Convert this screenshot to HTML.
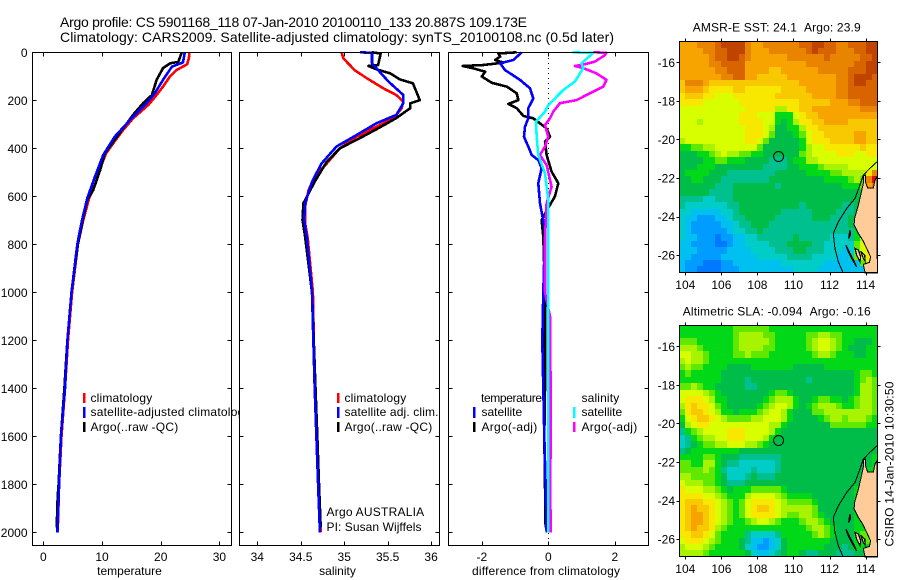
<!DOCTYPE html>
<html>
<head>
<meta charset="utf-8">
<title>Argo profile</title>
<style>
html,body{margin:0;padding:0;background:#fff;}
svg{display:block;}
text{font-family:"Liberation Sans",sans-serif;font-size:12px;fill:#000;}
.t14{font-size:14px;}
</style>
</head>
<body>
<svg id="fig" xmlns="http://www.w3.org/2000/svg" width="900" height="580" viewBox="0 0 900 580">
  <rect x="0" y="0" width="900" height="580" fill="#fff"/>
  <text class="t14" x="60" y="27" textLength="467">Argo profile: CS 5901168_118 07-Jan-2010 20100110_133 20.887S 109.173E</text>
  <text class="t14" x="60" y="42" textLength="554">Climatology: CARS2009. Satellite-adjusted climatology: synTS_20100108.nc (0.5d later)</text>

  <g id="panelT">
    <g id="seriesT"></g>
    <g>
      <rect x="83" y="393" width="2.5" height="10" fill="#f00"/>
      <text x="90.5" y="402" textLength="61.7">climatology</text>
      <rect x="83" y="407" width="2.5" height="11" fill="#00f"/>
      <text x="90.5" y="416" textLength="160">satellite-adjusted climatology</text>
      <rect x="83" y="422" width="2.5" height="10" fill="#000"/>
      <text x="90.5" y="431" textLength="87.7">Argo(..raw -QC)</text>
    </g>
  </g>

  <g id="panelS">
    <rect x="239" y="45" width="201" height="505" fill="#fff"/>
    <g id="seriesS"></g>
    <g>
      <rect x="337" y="393" width="2.5" height="10" fill="#f00"/>
      <text x="344.5" y="402" textLength="61.7">climatology</text>
      <rect x="337" y="407" width="2.5" height="11" fill="#00f"/>
      <text x="344.5" y="416" textLength="94">satellite adj. clim.</text>
      <rect x="337" y="422" width="2.5" height="10" fill="#000"/>
      <text x="344.5" y="431" textLength="87.7">Argo(..raw -QC)</text>
      <text x="326.5" y="516" textLength="97.7">Argo AUSTRALIA</text>
      <text x="326.5" y="531" textLength="95">PI: Susan Wijffels</text>
    </g>
  </g>

  <g id="panelD">
    <rect x="448" y="45" width="201" height="505" fill="#fff"/>
    <g id="seriesD"></g>
    <g>
      <text x="481" y="402" textLength="61">temperature</text>
      <rect x="473" y="407" width="2.5" height="11" fill="#00f"/>
      <text x="481.5" y="416" textLength="40.7">satellite</text>
      <rect x="473" y="422" width="2.5" height="10" fill="#000"/>
      <text x="481.5" y="431" textLength="55.7">Argo(-adj)</text>
      <text x="581.5" y="402" textLength="37.7">salinity</text>
      <rect x="573" y="407" width="2.5" height="11" fill="#0ff"/>
      <text x="581.5" y="416" textLength="40.7">satellite</text>
      <rect x="573" y="422" width="2.5" height="10" fill="#f0f"/>
      <text x="581.5" y="431" textLength="55.7">Argo(-adj)</text>
    </g>
  </g>

  <text x="129.5" y="575" text-anchor="middle">temperature</text>
  <text x="337.5" y="575" text-anchor="middle">salinity</text>
  <text x="472" y="575" textLength="148">difference from climatology</text>

  <g id="mapA"></g>
  <g id="mapB"></g>
  <text x="692.7" y="31.5" textLength="168">AMSR-E SST: 24.1&#160;&#160;Argo: 23.9</text>
  <text x="682.7" y="315.5" textLength="188">Altimetric SLA: -0.094&#160;&#160;Argo: -0.16</text>
  <text transform="translate(893.5,546.5) rotate(-90)" textLength="165">CSIRO 14-Jan-2010 10:30:50</text>
</svg>

<script>
// ---------- Profile data ----------
const depthTicks = [0,200,400,600,800,1000,1200,1400,1600,1800,2000];
const tempTicks = [0,10,20,30];
const salTicks = [34,34.5,35,35.5,36];
const salTickLabels = ['34','34.5','35','35.5','36'];
const diffTicks = [-2,0,2];

const tempClimDepth = [0,25,50,74,100,143,178,219,275,324,379,421,470,553,608,700,800,1000,1200,1400,1600,1800,2000];
const tempClimValues = [24.9,24.8,24.5,22.7,21.6,20.4,19.3,17.9,15.3,13.6,11.9,10.7,9.9,8.8,7.8,6.8,5.9,4.9,4.2,3.7,3.1,2.7,2.45];
const tempArgoDepth = [0,40,46,66,115,178,212,261,317,373,421,490,574,615,700,800,1000,1200,1400,1600,1800,1850,1980];
const tempArgoValues = [23.6,23,21.6,20.4,19.3,18.5,17,15.3,13.6,11.9,10.5,9.7,8.5,7.5,6.7,5.9,4.8,4.1,3.6,3.0,2.6,2.45,2.28];
const tempSatDepth = [0,42,60,115,171,212,268,351,428,518,608,700,800,1000,1200,1400,1600,1800,2000];
const tempSatValues = [24.1,23.8,21.9,20.4,19,17.6,15.3,12.2,10.2,8.8,7.5,6.6,5.8,4.8,4.1,3.7,3.0,2.7,2.4];

const salClimDepth = [0,25,74,108,150,178,206,233,271,303,352,400,463,518,574,643,711,774,1000,1400,1600,1800,2000];
const salClimValues = [34.97,34.99,35.12,35.26,35.45,35.60,35.68,35.66,35.58,35.41,35.14,34.95,34.80,34.66,34.59,34.55,34.55,34.58,34.64,34.66,34.68,34.70,34.73];
const salArgoDepth = [0,5,53,57,71,88,113,129,199,213,233,274,313,358,400,456,539,629,699,768,1000,1400,1600,1800,1980];
const salArgoValues = [35.32,35.42,35.39,35.28,35.37,35.53,35.64,35.79,35.87,35.76,35.76,35.60,35.41,35.18,34.95,34.80,34.66,34.53,34.52,34.55,34.63,34.67,34.69,34.71,34.73];
const salSatDepth = [0,2,46,74,122,178,212,261,296,345,393,463,539,629,699,770,1000,1400,1600,1800,2000];
const salSatValues = [35.18,35.32,35.32,35.39,35.51,35.68,35.68,35.60,35.37,35.14,34.91,34.74,34.63,34.55,34.54,34.57,34.63,34.66,34.68,34.70,34.72];

const diffTempArgoDepth = [0,5,18,32,43,53,57,67,81,101,127,143,171,199,215,233,265,275,317,352,372,428,497,546,601,636,699,768,1000,1400,1600,1800,1980];
const diffTempArgoValues = [-0.95,-1.5,-1.45,-1.6,-1.35,-1.95,-2.57,-2.25,-1.9,-2.0,-1.7,-1.25,-0.95,-0.9,-1.2,-0.95,-0.75,-0.45,-0.05,0.05,-0.1,-0.05,0.1,0.3,0.2,0.05,-0.2,-0.15,-0.1,-0.1,-0.12,-0.1,-0.08];
const diffTempSatDepth = [0,32,46,74,115,150,192,233,275,310,352,393,428,449,483,546,629,740,1000,1200,1400,1600,1800,2000];
const diffTempSatValues = [-0.8,-1.05,-1.45,-1.3,-0.85,-0.55,-0.45,-0.6,-0.6,-0.7,-0.73,-0.6,-0.5,-0.3,-0.2,-0.3,-0.25,-0.1,-0.15,-0.18,-0.15,-0.12,-0.08,-0.05];
const diffSalArgoDepth = [0,2,12,39,53,57,66,88,115,143,171,199,212,247,275,303,352,393,428,470,560,629,774,1000,1100,1400,1600,1800,2000];
const diffSalArgoValues = [1.35,1.75,1.7,1.4,1.0,0.8,1.05,1.45,1.75,1.65,1.25,0.85,0.35,0.15,0.05,-0.1,0,-0.1,-0.25,-0.05,0.1,-0.05,-0.1,-0.1,0.05,0.07,0.07,0.06,0.07];
const diffSalSatDepth = [0,3,46,66,122,157,220,247,289,352,428,504,615,774,1000,1400,2000];
const diffSalSatValues = [0.73,1.35,1.0,1.05,0.8,0.45,0,-0.1,-0.37,-0.35,-0.3,-0.1,0,0,0,0,0];

// ---------- Map data ----------
const lonTicks = [104,106,108,110,112,114];
const latTicks = [-16,-18,-20,-22,-24,-26];
const colorScale = ['#0078ff','#009cff','#00c0f0','#00ccc8','#00c090','#00bc48','#00d818','#60e800','#a8f400','#d8ff00','#f8e800','#f8c800','#f8a400','#e88400','#d86400','#c04400','#e01000'];

const sstLevels = [
[12,12,12,13,13,13,14,15,15,15,15,13,12,12,13,13,13,13,13,13,14,14,15,15,14,14,13,13,14,14,14,15,15],
[12,12,12,12,13,13,14,14,15,15,15,13,12,12,12,13,13,13,13,13,13,14,15,14,14,14,13,13,13,14,14,15,15],
[12,12,12,12,12,13,14,14,15,15,14,13,12,12,12,12,12,12,13,13,13,13,13,13,14,13,13,13,13,13,14,14,15],
[12,12,12,12,12,13,13,14,14,14,14,12,12,12,12,12,12,12,12,12,12,13,13,13,13,13,13,13,13,14,14,15,15],
[12,12,12,12,12,12,13,13,14,14,14,12,12,12,12,11,11,12,12,12,12,12,12,13,13,13,13,13,14,14,14,15,15],
[12,12,12,12,12,12,12,13,13,14,14,12,12,11,11,11,11,11,12,12,12,12,12,12,12,12,13,13,14,15,15,15,14],
[11,13,13,13,12,11,11,11,11,11,11,11,11,11,11,11,11,11,11,11,12,12,12,12,12,12,13,13,14,15,15,14,14],
[11,12,12,12,11,10,10,10,10,11,11,10,10,10,10,10,10,11,11,11,11,12,12,12,12,12,13,13,14,14,14,14,14],
[10,11,11,11,10,10,9,9,9,10,10,10,10,10,10,10,11,11,11,11,11,11,12,12,12,12,13,13,14,14,14,14,14],
[10,10,10,10,9,9,9,9,9,9,10,10,10,10,10,10,10,10,10,10,11,11,11,11,11,12,12,12,13,13,14,14,14],
[9,9,9,9,9,9,9,9,9,9,9,10,10,10,10,10,8,8,10,10,11,11,12,12,12,12,12,12,12,12,13,13,13],
[9,9,9,9,9,9,9,9,9,9,10,10,10,9,9,9,6,6,6,9,10,11,11,12,12,12,12,12,12,12,12,12,12],
[9,9,9,8,9,9,9,9,9,9,10,10,10,10,9,9,6,5,6,8,10,10,11,11,12,12,12,12,11,11,11,11,11],
[9,9,9,9,9,9,9,9,9,9,9,10,10,10,9,8,5,5,6,6,8,10,10,11,11,11,11,11,11,11,11,11,11],
[9,9,9,9,9,9,9,9,9,9,9,10,10,10,9,7,5,5,5,6,7,9,10,10,11,11,11,11,11,12,12,11,11],
[8,9,9,9,9,9,9,9,9,9,9,10,10,9,7,5,5,5,5,5,6,9,10,10,10,11,11,11,11,12,12,11,11],
[6,6,7,7,8,8,9,9,9,9,9,9,9,7,5,5,5,5,5,5,6,8,9,9,10,10,10,10,10,10,11,10,10],
[5,5,5,6,6,7,8,9,8,8,7,7,6,6,5,5,5,5,5,5,7,8,9,9,9,9,10,10,10,9,9,10,10],
[5,5,5,5,6,6,7,7,6,6,6,5,5,5,5,4,4,4,5,6,6,8,8,9,9,9,9,9,9,9,9,9,9],
[5,5,5,6,6,6,5,5,5,5,5,5,5,5,4,4,4,4,5,5,6,6,6,7,8,8,8,8,9,9,9,9,9],
[5,6,6,6,6,5,5,5,4,4,4,4,4,4,4,4,5,5,5,5,5,6,6,6,6,7,7,8,8,8,8,10,13],
[5,5,6,6,5,5,5,4,4,4,4,4,4,4,4,5,5,5,5,5,5,5,5,5,6,6,6,6,7,8,7,13,16],
[5,5,5,5,5,5,4,4,4,5,5,5,5,5,5,5,4,5,5,5,5,5,5,5,5,5,5,6,6,6,7,12,13],
[5,5,5,5,5,4,4,4,4,5,5,5,5,5,5,5,5,5,5,5,5,5,5,5,5,5,5,5,5,5,6,6,6],
[4,4,4,4,3,3,4,4,4,5,5,5,5,5,5,5,5,5,5,5,5,5,5,5,5,5,5,5,5,5,5,5,5],
[4,3,3,3,3,3,3,3,4,4,5,5,5,5,5,5,5,5,5,5,4,5,5,5,5,5,5,4,4,5,5,5,5],
[3,3,2,2,2,2,2,3,3,4,5,5,5,5,5,5,5,4,4,4,4,4,5,5,5,5,4,4,4,5,5,5,5],
[3,2,2,1,1,1,2,2,3,4,4,5,5,5,5,5,4,4,4,4,4,4,5,5,5,4,4,4,5,5,5,5,5],
[3,2,1,1,1,1,1,2,2,3,4,4,5,5,5,4,4,4,4,4,4,4,4,4,4,4,4,4,5,5,5,5,5],
[3,2,1,1,1,1,1,1,2,3,3,4,4,5,4,4,4,4,4,4,4,4,4,4,4,4,4,4,4,6,7,7,7],
[3,2,2,1,1,1,0,1,1,2,2,3,3,4,4,4,4,4,4,5,4,4,4,4,4,3,3,3,4,6,8,9,9],
[2,2,1,1,1,1,0,0,1,2,2,3,3,3,3,4,4,4,5,5,5,5,4,4,3,3,3,3,3,7,9,10,10],
[2,2,2,1,1,1,1,1,2,2,2,2,3,3,3,3,4,4,4,5,5,4,4,4,3,3,3,2,3,7,9,10,11],
[2,2,1,1,1,1,1,2,2,2,2,2,2,3,3,3,3,3,4,4,4,4,3,3,3,3,2,2,3,7,9,10,11],
[2,1,1,1,0,0,0,1,1,2,2,2,2,2,2,2,2,3,3,3,3,3,3,3,2,2,2,2,2,2,7,9,10],
[2,1,1,0,0,0,0,1,1,1,2,2,2,2,2,2,2,2,2,3,3,3,3,2,2,2,2,2,2,2,2,7,9]
];

const slaLevels = [
[6,6,6,6,6,6,6,6,6,7,7,7,7,7,7,6,6,6,6,6,6,6,6,6,6,6,6,6,6,6,6,6,6],
[6,6,6,6,6,6,6,6,6,7,8,8,8,8,7,7,6,6,6,6,6,7,7,8,8,7,7,6,6,6,6,6,6],
[7,7,7,6,6,6,6,6,6,7,8,8,8,8,8,7,6,6,6,6,6,7,8,9,9,8,7,6,6,5,5,5,6],
[8,8,8,7,6,6,6,6,6,7,8,8,8,8,7,7,6,6,6,6,6,7,8,9,9,8,7,6,5,5,5,6,6],
[9,9,8,8,7,6,6,6,6,7,7,8,7,7,7,6,6,6,6,6,6,6,7,8,8,7,6,6,6,5,5,6,6],
[8,9,8,8,7,6,6,6,6,6,6,6,6,6,6,6,6,6,6,6,6,6,6,6,6,6,6,6,6,6,6,6,6],
[7,8,7,7,6,6,6,6,5,5,5,5,6,6,6,6,6,6,6,5,5,5,5,5,6,6,6,6,6,6,6,6,6],
[6,7,6,6,6,6,6,5,5,5,5,5,5,5,5,5,5,5,5,5,5,5,5,5,5,5,5,5,5,6,7,7,6],
[6,6,6,6,6,6,6,5,5,5,5,4,5,5,5,5,5,5,5,5,5,4,5,5,5,5,5,5,5,6,7,8,7],
[7,7,8,7,6,6,5,5,5,5,5,4,4,5,5,5,5,5,5,5,5,5,5,5,5,5,5,5,5,6,8,8,7],
[9,9,9,9,8,7,6,5,5,5,5,5,5,5,5,6,7,7,6,5,5,5,5,5,5,5,5,5,5,6,8,8,7],
[9,10,10,10,9,8,6,6,5,5,5,5,5,5,6,7,8,8,8,6,5,5,6,7,7,6,6,5,6,7,8,8,7],
[8,10,11,10,10,9,7,6,5,5,5,5,5,6,7,8,9,9,8,6,5,6,7,8,8,8,7,6,6,7,8,8,7],
[7,10,11,11,10,9,8,6,6,5,6,6,6,7,8,9,9,8,6,5,5,5,7,7,8,8,8,8,8,8,8,8,7],
[6,9,10,11,11,10,9,8,7,7,7,7,8,8,9,9,9,8,6,5,5,5,5,6,7,8,8,7,8,8,8,7,6],
[5,8,9,10,10,9,9,9,9,9,9,9,9,9,9,8,8,6,5,5,5,5,5,5,5,7,7,7,7,7,7,6,6],
[4,6,7,8,9,9,9,9,10,10,10,9,9,9,9,8,6,5,5,5,5,5,5,5,5,5,5,5,5,5,5,5,5],
[3,4,6,7,8,8,9,9,10,10,10,9,9,9,8,6,5,5,5,5,5,5,5,5,5,5,5,5,5,5,5,5,5],
[3,4,5,6,7,7,8,8,9,9,9,8,8,7,6,5,5,5,5,5,5,5,5,5,5,5,5,5,5,5,5,5,5],
[4,5,6,6,6,6,6,6,6,6,5,5,5,5,5,5,5,5,5,5,5,5,5,5,5,5,5,5,5,5,5,5,5],
[6,6,6,6,7,7,6,5,5,5,4,4,4,4,4,4,4,5,5,5,5,5,5,5,5,5,5,5,5,5,5,5,6],
[7,7,6,6,8,8,6,5,4,4,3,3,3,3,3,3,4,5,5,5,5,5,5,5,5,5,5,5,5,5,5,5,6],
[7,7,7,7,8,7,6,4,3,3,3,3,4,3,3,3,4,5,5,5,5,5,5,5,5,5,5,5,5,5,5,6,6],
[8,8,7,7,7,7,6,5,3,3,3,4,5,4,4,4,5,5,5,5,5,5,5,5,5,5,5,5,5,5,6,6,6],
[9,8,8,8,7,7,6,5,4,4,4,5,5,5,5,5,5,5,5,5,5,5,5,5,5,5,5,5,5,5,6,6,6],
[10,9,9,9,8,8,7,6,5,6,6,6,7,7,7,7,7,6,5,5,5,5,5,5,5,5,5,5,5,6,6,6,6],
[10,10,10,10,9,9,8,7,6,6,6,8,9,9,9,9,8,7,6,6,6,6,5,5,5,5,5,5,5,6,6,6,6],
[10,11,11,11,10,10,9,8,7,6,7,9,10,10,10,10,9,8,7,7,7,7,6,5,5,5,5,5,5,6,6,6,6],
[10,11,12,11,11,10,9,8,7,6,7,9,10,11,11,10,9,8,8,8,8,8,7,5,5,5,5,5,5,6,6,6,6],
[10,11,12,12,11,10,9,8,7,6,7,9,10,10,10,10,9,8,7,7,8,8,7,6,5,5,5,5,5,6,6,6,6],
[10,11,12,12,11,10,9,8,7,6,6,7,8,9,9,8,7,6,6,6,7,8,8,7,6,5,5,5,5,6,6,6,6],
[10,11,12,11,11,10,8,7,6,6,6,6,6,6,6,6,6,6,6,6,6,7,8,8,7,6,5,5,5,6,6,6,6],
[10,10,11,11,10,9,7,6,6,6,6,4,3,3,3,3,4,6,6,6,6,6,7,8,7,6,5,5,5,6,7,7,7],
[9,10,10,10,9,8,7,6,6,6,5,4,2,2,1,2,3,5,6,6,6,6,6,6,6,5,5,5,5,6,6,7,7],
[8,9,9,9,8,7,6,6,6,6,5,3,2,1,1,2,3,5,6,6,6,6,6,6,5,5,5,4,5,6,6,6,6],
[8,8,8,8,7,6,6,6,6,6,6,5,3,2,2,3,4,5,6,6,5,4,4,5,5,5,4,4,4,5,5,5,5]
];

const floatLon = 109.173;
const floatLat = -20.887;
const isobathLon = [114.63,114.24,113.87,113.69,113.41,112.95,112.49,112.21,112.30,112.49,112.73];
const isobathLat = [-21.16,-21.50,-21.85,-22.37,-23.06,-23.58,-24.27,-24.88,-25.65,-26.35,-26.87];
const landLon = [113.87,113.99,113.99,114.11,114.43,114.52,114.63,114.65,113.97,113.87,114.21,114.28,114.06,113.84,113.60,113.36,113.39,113.60,113.73,113.87];
const landLat = [-21.88,-21.85,-22.19,-22.51,-22.51,-22.11,-21.93,-26.92,-26.92,-26.48,-26.38,-26.09,-25.65,-25.22,-24.88,-24.44,-24.10,-23.40,-22.89,-22.28];
const islandALon = [112.91,113.04,113.23,113.50,113.36,113.13];
const islandALat = [-25.48,-25.83,-26.17,-26.61,-26.31,-25.91];
const islandBLon = [113.41,113.50,113.69,113.73,113.60];
const islandBLat = [-25.65,-26.0,-26.35,-26.09,-25.74];
const islandCLon = [113.73,113.87,113.97,113.95];
const islandCLat = [-25.79,-26.17,-26.31,-26.0];
const islandDLon = [113.13,113.06,113.17];
const islandDLat = [-24.70,-25.13,-24.93];

// ---------- Axis functions ----------
const NS = 'http://www.w3.org/2000/svg';
const depthY = d => 52.3 + 0.24 * d;
const tempX = v => 43.3 + 5.87 * v;
const salX = v => 257.3 + 86.9 * (v - 34);
const diffX = v => 548.3 + 33.25 * v;

function make(tag, parent, attrs) {
  const el = document.createElementNS(NS, tag);
  for (const k in attrs) el.setAttribute(k, attrs[k]);
  parent.appendChild(el);
  return el;
}

function drawLine(parent, depth, values, xScale, color, name) {
  const pts = values.map((v, i) => xScale(v).toFixed(1) + ',' + depthY(depth[i]).toFixed(1)).join(' ');
  const el = make('polyline', parent, {points: pts, fill: 'none', stroke: color, 'stroke-width': 2.6, 'stroke-linejoin': 'round', 'shape-rendering': 'crispEdges'});
  
  
}

function drawFrame(parent, left, right, top, bottom, xTicks, xLabels, xScale, showDepthLabels, name) {
  const d = [];
  xTicks.forEach((t) => {
    const x = Math.round(xScale(t)) + 0.5;
    d.push('M' + x + ' ' + top + 'V' + (top + 4) + 'M' + x + ' ' + bottom + 'V' + (bottom - 4));
  });
  depthTicks.forEach((t) => {
    const y = Math.round(depthY(t)) + 0.5;
    d.push('M' + left + ' ' + y + 'H' + (left + 4) + 'M' + right + ' ' + y + 'H' + (right - 4));
  });
  const ticks = make('path', parent, {d: d.join(''), stroke: '#000', fill: 'none', 'stroke-width': 1, 'shape-rendering': 'crispEdges'});
  
  
  const frame = make('rect', parent, {x: left, y: top, width: right - left, height: bottom - top, fill: 'none', stroke: '#000', 'stroke-width': 1, 'shape-rendering': 'crispEdges'});
  
  
  xTicks.forEach((t, i) => {
    const lab = make('text', parent, {x: xScale(t), y: 561, 'text-anchor': 'middle'});
    lab.textContent = xLabels[i];
    
    
  });
  if (showDepthLabels) {
    depthTicks.forEach((t) => {
      const lab = make('text', parent, {x: 27.5, y: depthY(t) + 4.5, 'text-anchor': 'end'});
      lab.textContent = String(t);
      
      
    });
  }
}

const gT = document.getElementById('seriesT');
drawLine(gT, tempClimDepth, tempClimValues, tempX, '#f00', 'temperature-climatology-line');
drawLine(gT, tempArgoDepth, tempArgoValues, tempX, '#000', 'temperature-argo-line');
drawLine(gT, tempSatDepth, tempSatValues, tempX, '#00f', 'temperature-satellite-line');
drawFrame(document.getElementById('panelT'), 32.5, 231.5, 52.5, 545.5, tempTicks, tempTicks.map(String), tempX, true, 'temperature-axis');

const gS = document.getElementById('seriesS');
drawLine(gS, salClimDepth, salClimValues, salX, '#f00', 'salinity-climatology-line');
drawLine(gS, salArgoDepth, salArgoValues, salX, '#000', 'salinity-argo-line');
drawLine(gS, salSatDepth, salSatValues, salX, '#00f', 'salinity-satellite-line');
drawFrame(document.getElementById('panelS'), 239.5, 439.5, 52.5, 545.5, salTicks, salTickLabels, salX, false, 'salinity-axis');

const gD = document.getElementById('seriesD');
const zeroLine = make('line', gD, {x1: diffX(0), x2: diffX(0), y1: 53, y2: 545, stroke: '#000', 'stroke-width': 1, 'stroke-dasharray': '1 4', 'shape-rendering': 'crispEdges'});


drawLine(gD, diffTempArgoDepth, diffTempArgoValues, diffX, '#000', 'difference-temperature-argo-line');
drawLine(gD, diffTempSatDepth, diffTempSatValues, diffX, '#00f', 'difference-temperature-satellite-line');
drawLine(gD, diffSalArgoDepth, diffSalArgoValues, diffX, '#f0f', 'difference-salinity-argo-line');
drawLine(gD, diffSalSatDepth, diffSalSatValues, diffX, '#0ff', 'difference-salinity-satellite-line');
drawFrame(document.getElementById('panelD'), 448.5, 648.5, 52.5, 545.5, diffTicks, diffTicks.map(String), diffX, false, 'difference-axis');

function drawMap(group, levels, top, bottom, lat16Y, name) {
  const left = 679.5, right = 877.5;
  const lonX = lon => 685.3 + (lon - 104) * 18.03;
  const latY = lat => lat16Y + (-16 - lat) * 19.28;
  const lonStart = 104 - 1 / 3;
  const latStart = -16 + (lat16Y - top) / 19.28;
  levels.forEach((row, r) => {
    row.forEach((v, c) => {
      const x0 = Math.round(lonX(lonStart + c / 3));
      const x1 = Math.round(lonX(lonStart + (c + 1) / 3));
      const y0 = Math.round(latY(latStart - r / 3));
      const y1 = Math.round(latY(latStart - (r + 1) / 3));
      const cell = make('rect', group, {x: x0, y: y0, width: x1 - x0, height: y1 - y0, fill: colorScale[v], 'shape-rendering': 'crispEdges'});
      
      
    });
  });
  const toPts = (lons, lats) => lons.map((l, i) => lonX(l).toFixed(1) + ',' + latY(lats[i]).toFixed(1)).join(' ');
  const land = make('polygon', group, {points: toPts(landLon, landLat), fill: '#ffcc99', stroke: '#000', 'stroke-width': 1, 'shape-rendering': 'crispEdges'});
  
  
  [[islandALon, islandALat], [islandBLon, islandBLat], [islandCLon, islandCLat], [islandDLon, islandDLat]].forEach((isl) => {
    const p = make('polygon', group, {points: toPts(isl[0], isl[1]), fill: '#ffcc99', stroke: '#000', 'stroke-width': 1.2, 'shape-rendering': 'crispEdges'});
    
    
  });
  const iso = make('polyline', group, {points: toPts(isobathLon, isobathLat), fill: 'none', stroke: '#000', 'stroke-width': 1, 'shape-rendering': 'crispEdges'});
  
  
  const marker = make('circle', group, {cx: lonX(floatLon), cy: latY(floatLat), r: 5, fill: 'none', stroke: '#000', 'stroke-width': 1});
  
  
  const d = [];
  lonTicks.forEach((t) => {
    const x = Math.round(lonX(t)) + 0.5;
    d.push('M' + x + ' ' + top + 'V' + (top - 3) + 'M' + x + ' ' + bottom + 'V' + (bottom + 3));
  });
  latTicks.forEach((t) => {
    const y = Math.round(latY(t)) + 0.5;
    d.push('M' + left + ' ' + y + 'H' + (left - 3) + 'M' + right + ' ' + y + 'H' + (right + 3));
  });
  const ticks = make('path', group, {d: d.join(''), stroke: '#000', fill: 'none', 'stroke-width': 1, 'shape-rendering': 'crispEdges'});
  
  
  const frame = make('rect', group, {x: left, y: top, width: right - left, height: bottom - top, fill: 'none', stroke: '#000', 'stroke-width': 1, 'shape-rendering': 'crispEdges'});
  
  
  lonTicks.forEach((t) => {
    const lab = make('text', group, {x: lonX(t), y: bottom + 16.5, 'text-anchor': 'middle'});
    lab.textContent = String(t);
    
    
  });
  latTicks.forEach((t) => {
    const lab = make('text', group, {x: 675, y: latY(t) + 4.5, 'text-anchor': 'end'});
    lab.textContent = String(t);
    
    
  });
}

drawMap(document.getElementById('mapA'), sstLevels, 41.5, 272.5, 62.3, 'sst-map');
drawMap(document.getElementById('mapB'), slaLevels, 325.5, 556.5, 346.3, 'sla-map');
</script>
</body>
</html>
